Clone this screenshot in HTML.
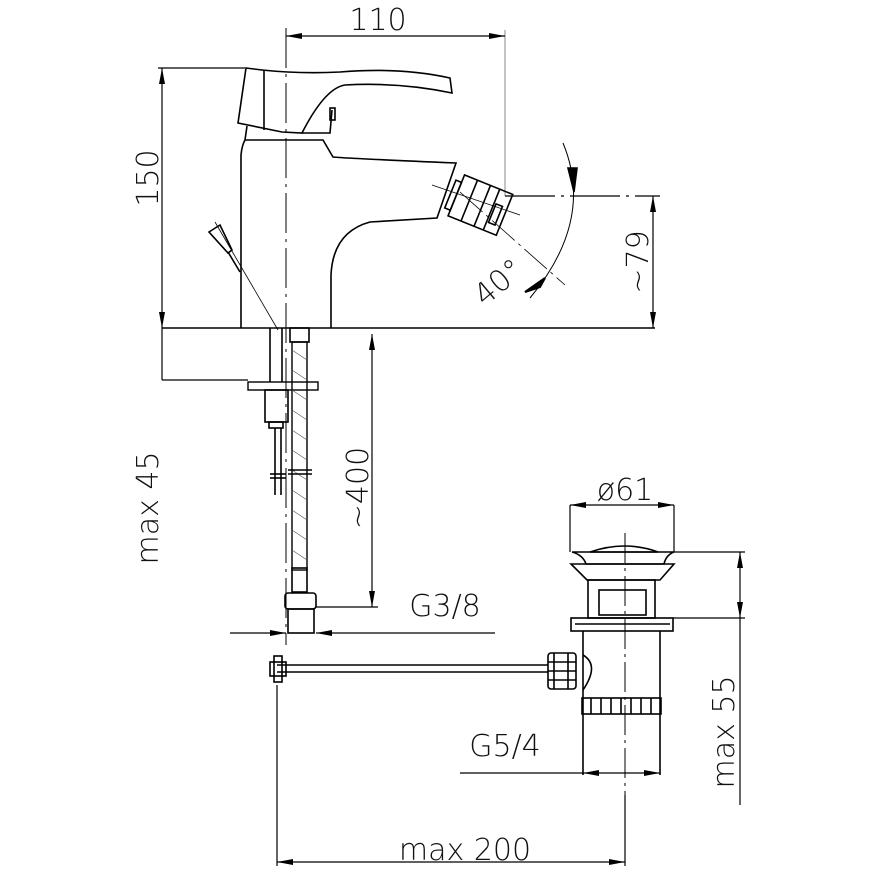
<!DOCTYPE html><html><head><style>body{margin:0;background:#fff}svg{display:block}text{font-family:"DejaVu Sans","Liberation Sans",sans-serif;fill:#111;font-weight:300}</style></head><body>
<svg width="870" height="870" viewBox="0 0 870 870" xmlns="http://www.w3.org/2000/svg">
<defs>
<marker id="b" viewBox="0 0 16 6" refX="16" refY="3" markerWidth="16" markerHeight="6" orient="auto-start-reverse" markerUnits="userSpaceOnUse"><path d="M0,0L16,3L0,6z" fill="#000"/></marker></defs>
<g stroke="#000" fill="none" stroke-width="1.6">
<line x1="286" y1="28" x2="286" y2="645" stroke-width="1" stroke-dasharray="40,6,3,6"/>
<line x1="505" y1="30" x2="505" y2="196" stroke="#888" stroke-width="1"/>
<line x1="286" y1="36" x2="505" y2="36" marker-start="url(#b)" marker-end="url(#b)" stroke-width="1.2"/>
<line x1="158" y1="68" x2="245" y2="68" stroke-width="1.2"/>
<line x1="162" y1="68" x2="162" y2="328" marker-start="url(#b)" marker-end="url(#b)" stroke-width="1.2"/>
<line x1="162" y1="328" x2="655" y2="328" stroke-width="1.4"/>
<line x1="162" y1="328" x2="162" y2="380" stroke-width="1.2"/>
<line x1="162" y1="380" x2="248" y2="380" stroke-width="1.2"/>
<line x1="505" y1="196" x2="660" y2="196" stroke-width="1.2" stroke-dasharray="50,6,3,6"/>
<line x1="653" y1="196" x2="653" y2="328" marker-start="url(#b)" marker-end="url(#b)" stroke-width="1.2"/>
<path d="M246,68 L262,70 Q300,74 340,72 Q400,67 450,78 L452,93 Q400,82 345,85 Q325,88 302,133 L282,132 L238,123 Z"/>
<line x1="264" y1="70" x2="264" y2="130"/>
<path d="M302,133 L330,133 L332,110"/>
<rect x="330" y="108" width="5" height="12"/>
<path d="M241,328 L241,155 Q242,145 245,140 L323,140 L333,157 Q340,158 456,163 L437,218 L370,222 Q333,232 331,275 L331,328"/>
<path d="M245,140 L247,126"/>
<g transform="translate(483,204) rotate(22)">
<rect x="-28" y="-20" width="52" height="44"/>
<line x1="-14" y1="-20" x2="-14" y2="24"/><line x1="0" y1="-20" x2="0" y2="24"/><line x1="10" y1="-20" x2="10" y2="24"/>
<rect x="-34" y="-12" width="6" height="30"/>
<rect x="12" y="-5" width="7" height="20"/>
</g>
<line x1="432" y1="185" x2="520" y2="215" stroke-width="0.8"/>
<line x1="460" y1="192" x2="565" y2="285" stroke-width="0.8" stroke-dasharray="30,5,3,5"/>
<path d="M563,143 Q595,220 530,298" stroke-width="1"/>
<path d="M568,168 L577,168 L574,192 Z" fill="#000"/>
<path d="M525,292 L545,278 L540,287 Z" fill="#000" stroke-width="2"/>
<path d="M209,232 L220,225 L232,250 L228,253 Z"/>
<line x1="228" y1="252" x2="240" y2="272"/>
<line x1="215" y1="222" x2="278" y2="330" stroke-width="0.8"/>
<rect x="248" y="382" width="70" height="8" stroke-width="1.4"/>
<line x1="270" y1="328" x2="270" y2="382"/><line x1="282" y1="328" x2="282" y2="382"/>
<rect x="265" y="390" width="23" height="32"/><rect x="269" y="422" width="14" height="6"/>
<line x1="275" y1="428" x2="275" y2="495"/><line x1="281" y1="428" x2="281" y2="495"/>
<line x1="270" y1="474" x2="286" y2="474"/><line x1="270" y1="478" x2="286" y2="478"/>
<rect x="290" y="328" width="19" height="14"/>
<rect x="292" y="342" width="15" height="228" stroke-width="1.4"/>
<path d="M292,350 l15,10 M292,370 l15,10 M292,390 l15,10 M292,410 l15,10 M292,430 l15,10 M292,450 l15,10 M292,470 l15,10 M292,490 l15,10 M292,510 l15,10 M292,530 l15,10 M292,550 l15,10" stroke-width="0.6" stroke="#555"/>
<line x1="288" y1="470" x2="312" y2="470"/><line x1="288" y1="474" x2="312" y2="474"/>
<rect x="292" y="568" width="15" height="24"/>
<rect x="285" y="593" width="31" height="16" rx="3"/>
<rect x="288" y="609" width="26" height="24"/>
<line x1="372" y1="334" x2="372" y2="607" marker-start="url(#b)" marker-end="url(#b)" stroke-width="1.2"/>
<line x1="316" y1="607" x2="378" y2="607" stroke-width="1.2"/>
<line x1="230" y1="633" x2="286" y2="633" marker-end="url(#b)" stroke-width="1.2"/>
<line x1="495" y1="633" x2="316" y2="633" marker-end="url(#b)" stroke-width="1.2"/>
<line x1="625" y1="533" x2="625" y2="795" stroke-width="1" stroke-dasharray="30,5,3,5"/>
<line x1="570" y1="505" x2="570" y2="552" stroke-width="1.2"/><line x1="674" y1="505" x2="674" y2="552" stroke-width="1.2"/>
<line x1="570" y1="505" x2="674" y2="505" marker-start="url(#b)" marker-end="url(#b)" stroke-width="1.2"/>
<path d="M590,552 Q625,540 658,552 Z"/>
<path d="M572,552 L674,552 Q666,555 664,564 L586,564 Q583,555 572,552"/>
<path d="M571,564 L674,564 L660,580 L587,580 Z"/>
<rect x="588" y="580" width="67" height="38"/><rect x="599" y="590" width="47" height="25"/>
<rect x="571" y="618" width="102" height="13"/><line x1="575" y1="624" x2="670" y2="624"/>
<line x1="583" y1="631" x2="583" y2="775"/><line x1="660" y1="631" x2="660" y2="775"/>
<rect x="582" y="698" width="79" height="16"/>
<path d="M591,698v16M601,698v16M611,698v16M621,698v16M631,698v16M641,698v16M651,698v16"/>
<path d="M583,655 Q600,665 583,690"/>
<rect x="548" y="653" width="28" height="36" rx="3"/>
<path d="M554,653v36M568,653v36M548,662h28M548,671h28M548,680h28"/>
<line x1="277" y1="665" x2="548" y2="665"/><line x1="277" y1="672" x2="548" y2="672"/>
<rect x="270" y="662" width="16" height="14"/><rect x="274" y="656" width="8" height="26"/>
<line x1="674" y1="552" x2="745" y2="552" stroke-width="1.2"/>
<line x1="673" y1="618" x2="745" y2="618" stroke-width="1.2"/>
<line x1="740" y1="552" x2="740" y2="618" marker-start="url(#b)" marker-end="url(#b)" stroke-width="1.2"/>
<line x1="740" y1="618" x2="740" y2="805" stroke-width="1.2"/>
<line x1="460" y1="773" x2="583" y2="773" stroke-width="1.2"/>
<line x1="583" y1="773" x2="660" y2="773" marker-start="url(#b)" marker-end="url(#b)" stroke-width="1.2"/>
<line x1="277" y1="685" x2="277" y2="866" stroke-width="1.2"/>
<line x1="625" y1="795" x2="625" y2="866" stroke-width="1.2"/>
<line x1="277" y1="862" x2="625" y2="862" marker-start="url(#b)" marker-end="url(#b)" stroke-width="1.2"/>
</g>
<g font-size="30">
<text x="378" y="30" text-anchor="middle">110</text>
<text transform="translate(158,178) rotate(-90)" text-anchor="middle">150</text>
<text transform="translate(158,508) rotate(-90)" text-anchor="middle">max 45</text>
<text transform="translate(368,488) rotate(-90)" text-anchor="middle">~400</text>
<text transform="translate(648,262) rotate(-90)" text-anchor="middle">~79</text>
<text transform="translate(505,290) rotate(-40)" text-anchor="middle">40°</text>
<text x="445" y="616" text-anchor="middle">G3/8</text>
<text x="625" y="500" text-anchor="middle">ø61</text>
<text x="505" y="756" text-anchor="middle">G5/4</text>
<text transform="translate(734,732) rotate(-90)" text-anchor="middle">max 55</text>
<text x="465" y="860" text-anchor="middle">max 200</text>
</g>
</svg></body></html>
